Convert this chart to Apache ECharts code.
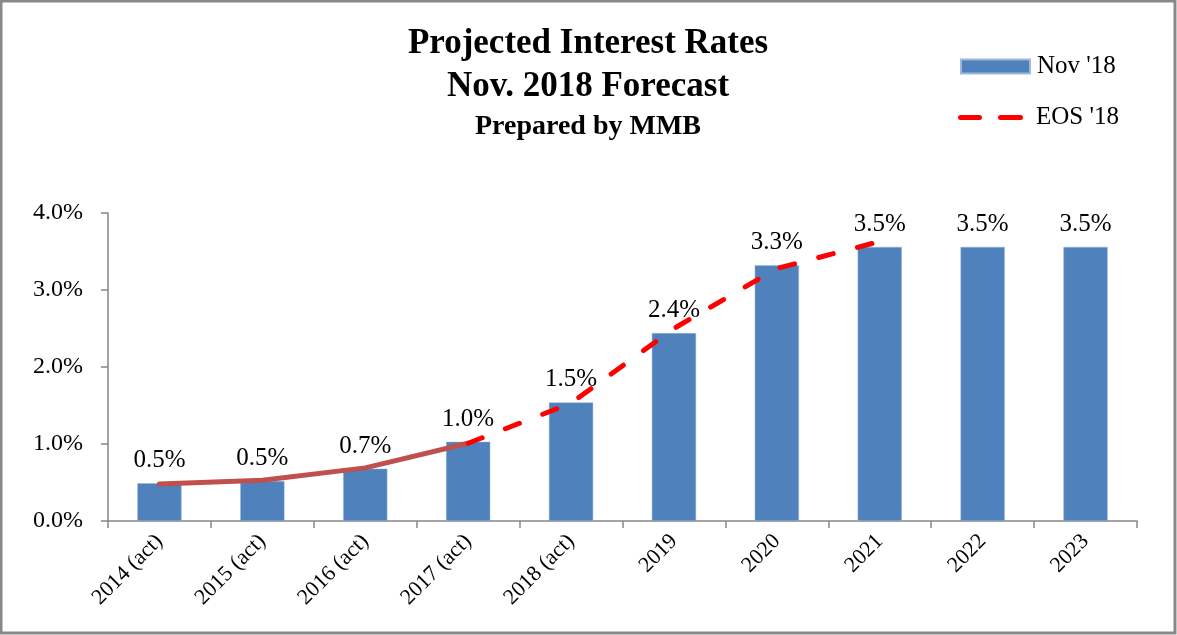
<!DOCTYPE html>
<html>
<head>
<meta charset="utf-8">
<script src="https://cdn.jsdelivr.net/npm/echarts@6/dist/echarts.min.js"></script>
<style>
  html, body { margin: 0; padding: 0; background: #fff; }
  #chart { width: 1177px; height: 635px; }
</style>
</head>
<body>
<div id="chart"></div>
<script>
// categories and values
var years = ['2014 (act)', '2015 (act)', '2016 (act)', '2017 (act)', '2018 (act)',
             '2019', '2020', '2021', '2022', '2023'];
var nov18 = [0.49, 0.52, 0.68, 1.03, 1.54, 2.44, 3.32, 3.56, 3.56, 3.56];
var nov18Labels = ['0.5%', '0.5%', '0.7%', '1.0%', '1.5%', '2.4%', '3.3%', '3.5%', '3.5%', '3.5%'];
var actual = [0.48, 0.53, 0.69, 1.01, null, null, null, null, null, null];
var eos18 = [null, null, null, 1.01, 1.53, 2.5, 3.28, 3.63, null, null];
var yTicks = [0, 1, 2, 3, 4];

var serif = '"Liberation Serif", "DejaVu Serif", serif';
var dashIcon = 'path://M2.5,0 L21.5,0 A2.5,2.5 0 0 1 21.5,5 L2.5,5 A2.5,2.5 0 0 1 2.5,0 Z ' +
               'M42.5,0 L62.5,0 A2.5,2.5 0 0 1 62.5,5 L42.5,5 A2.5,2.5 0 0 1 42.5,0 Z';
var chart = echarts.init(document.getElementById('chart'));

var option = {
  animation: false,
  backgroundColor: '#fff',
  textStyle: { fontFamily: serif, color: '#000' },
  graphic: [{
    type: 'rect',
    shape: { x: 1, y: 1, width: 1174, height: 632 },
    style: { fill: 'none', stroke: '#888888', lineWidth: 3 },
    silent: true
  }],
  title: {
    text: 'Projected Interest Rates\nNov. 2018 Forecast',
    subtext: 'Prepared by MMB',
    left: 583,
    textAlign: 'center',
    top: 17,
    itemGap: 5,
    textStyle: { fontFamily: serif, fontSize: 35, fontWeight: 'bold', color: '#000', lineHeight: 43 },
    subtextStyle: { fontFamily: serif, fontSize: 28, fontWeight: 'bold', color: '#000' }
  },
  legend: [{
    left: 960,
    top: 54,
    padding: 0,
    itemWidth: 69,
    itemHeight: 14,
    itemGap: 0,
    textStyle: { fontFamily: serif, fontSize: 25, color: '#000', padding: [0, 0, 0, 2] },
    data: [{ name: "Nov '18", icon: 'rect' }]
  }, {
    left: 958,
    top: 105,
    padding: 0,
    itemWidth: 65,
    itemHeight: 5,
    itemGap: 0,
    textStyle: { fontFamily: serif, fontSize: 25, color: '#000', padding: [0, 0, 0, 8] },
    data: [{ name: "EOS '18", icon: dashIcon }]
  }],
  grid: { left: 108, right: 40, top: 213, bottom: 114 },
  xAxis: {
    type: 'category',
    data: years,
    axisLine: { lineStyle: { color: '#868686', width: 1.5 } },
    axisTick: { show: true, length: 7, lineStyle: { color: '#868686', width: 1.5 } },
    axisLabel: { rotate: 45, fontFamily: serif, fontSize: 22, color: '#000', margin: 17 }
  },
  yAxis: {
    type: 'value',
    min: 0,
    max: 4,
    interval: 1,
    splitLine: { show: false },
    axisLine: { show: true, lineStyle: { color: '#868686', width: 1.5 } },
    axisTick: { show: true, length: 7, lineStyle: { color: '#868686', width: 1.5 } },
    axisLabel: {
      fontFamily: serif, fontSize: 24, color: '#000', margin: 25,
      customValues: yTicks,
      formatter: function (v) { return v.toFixed(1) + '%'; }
    }
  },
  series: [
    {
      name: "Nov '18",
      type: 'bar',
      data: nov18,
      barWidth: '43%',
      itemStyle: { color: '#4F81BD', borderColor: '#9DB8DA', borderWidth: 0.5 },
      label: {
        show: true,
        position: 'top',
        distance: 10,
        fontFamily: serif,
        fontSize: 25,
        color: '#000',
        formatter: function (p) { return nov18Labels[p.dataIndex]; }
      },
      z: 2
    },
    {
      name: 'Actual',
      type: 'line',
      data: actual,
      symbol: 'none',
      lineStyle: { color: '#C0504D', width: 5, cap: 'round' },
      z: 3
    },
    {
      name: "EOS '18",
      type: 'line',
      data: eos18,
      symbol: 'none',
      itemStyle: { color: '#FF0000' },
      lineStyle: { color: '#FF0000', width: 5, type: [15, 25], cap: 'round' },
      z: 4
    }
  ]
};
chart.setOption(option);
</script>
</body>
</html>
